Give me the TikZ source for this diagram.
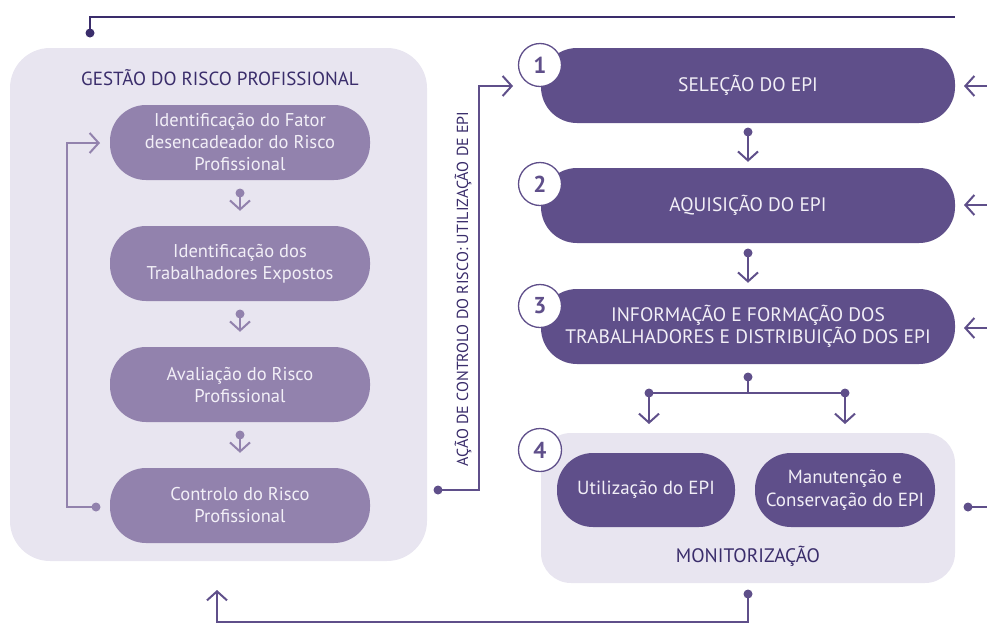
\documentclass[tikz,border=0pt]{standalone}
\usepackage{fontspec}
\setmainfont{PT Sans}
\usetikzlibrary{arrows.meta}
\definecolor{dk}{HTML}{5F4F8A}
\definecolor{lt}{HTML}{9282AD}
\definecolor{pan}{HTML}{E8E5F0}
\definecolor{navy}{HTML}{3A2D6B}
\definecolor{ltxt}{HTML}{F2EFF7}
\tikzset{
  panel/.style={fill=pan, rounded corners=40pt, inner sep=0pt},
  lbox/.style={fill=lt, rounded corners=36pt, minimum width=260pt, minimum height=75pt, text=ltxt, align=center, font=\fontsize{18.5}{22}\selectfont, inner sep=0pt},
  rbox/.style={fill=dk, rounded corners=36pt, minimum width=414pt, minimum height=75pt, text=ltxt, align=center, font=\fontsize{19.5}{22}\selectfont, inner sep=0pt},
  ibox/.style={fill=dk, rounded corners=36pt, minimum height=74pt, text=ltxt, align=center, font=\fontsize{19}{23}\selectfont, inner sep=0pt},
  numc/.style={circle, draw=dk, line width=1.3pt, fill=white, minimum size=43pt, inner sep=0pt, text=dk, font=\fontsize{23}{23}\selectfont\bfseries},
  dot/.style={circle, fill=#1, minimum size=9pt, inner sep=0pt},
  dkline/.style={draw=dk, line width=2pt},
  ltline/.style={draw=lt, line width=2pt},
  arr/.style={-{Straight Barb[length=9pt,width=20pt,line width=2pt]}},
  ttl/.style={text=navy, font=\fontsize{19}{22}\selectfont},
}
\begin{document}
\begin{tikzpicture}[x=1pt,y=-1pt]
\useasboundingbox (0,0) rectangle (987,635);
% left panel
\node[panel, minimum width=417pt, minimum height=513pt] (lp) at (218.5,304.5) {};
\node[ttl] (lt) at (220,78) {GESTÃO DO RISCO PROFISSIONAL};
\node[lbox] (l1) at (240,142.5) {Identificação do Fator\\desencadeador do Risco\\Profissional};
\node[lbox] (l2) at (240,263.5) {Identificação dos\\Trabalhadores Expostos};
\node[lbox] (l3) at (240,384.5) {Avaliação do Risco\\Profissional};
\node[lbox] (l4) at (240,505.5) {Controlo do Risco\\Profissional};
% left small arrows
\node[dot=lt] (d1) at (240,193) {};
\node[dot=lt] (d2) at (240,314) {};
\node[dot=lt] (d3) at (240,435) {};
\draw[ltline,arr] (d1.center) -- ([yshift=15pt]l2.north);
\draw[ltline,arr] (d2.center) -- ([yshift=15pt]l3.north);
\draw[ltline,arr] (d3.center) -- ([yshift=15pt]l4.north);
% left loop
\node[dot=lt] (dl) at (96,507) {};
\coordinate (la) at (100,143);
\draw[ltline,arr] (dl.center) -| (67,143) -- (la);
% right boxes
\node[rbox] (r1) at (748,85.5) {SELEÇÃO DO EPI};
\node[rbox] (r2) at (748,205.5) {AQUISIÇÃO DO EPI};
\node[rbox] (r3) at (748,326.5) {INFORMAÇÃO E FORMAÇÃO DOS\\TRABALHADORES E DISTRIBUIÇÃO DOS EPI};
% monitor panel
\node[panel, rounded corners=30pt, minimum width=414pt, minimum height=150pt] (mp) at (748,508) {};
\node[ibox, minimum width=178pt] (m1) at (646,490) {Utilização do EPI};
\node[ibox, minimum width=180pt] (m2) at (845,490) {Manutenção e\\Conservação do EPI};
\node[ttl, font=\fontsize{19.5}{22}\selectfont] (mt) at (748,556) {MONITORIZAÇÃO};
% number circles
\node[numc] (n1) at (540,65) {1};
\node[numc] (n2) at (540,184) {2};
\node[numc] (n3) at (540,306) {3};
\node[numc] (n4) at (540,450) {4};
% right arrows down
\node[dot=dk] (e1) at (748,132) {};
\node[dot=dk] (e2) at (748,253) {};
\node[dot=dk] (e3) at (748,377) {};
\draw[dkline,arr] (e1.center) -- ([yshift=6pt]r2.north);
\draw[dkline,arr] (e2.center) -- ([yshift=6pt]r3.north);
\node[dot=dk] (bl) at (649,393) {};
\node[dot=dk] (br) at (845,393) {};
\coordinate (al) at (649,424);
\coordinate (ar) at (845,424);
\draw[dkline] (e3.center) -- (748,393);
\draw[dkline] (bl.center) -- (br.center);
\draw[dkline,arr] (bl.center) -- (al);
\draw[dkline,arr] (br.center) -- (ar);
% vertical text and connector
\node[text=navy, font=\fontsize{16}{18}\selectfont, rotate=90] (vt) at (463,289) {AÇÃO DE CONTROLO DO RISCO: UTILIZAÇÃO DE EPI};
\node[dot=dk] (dv) at (438,490) {};
\coordinate (av) at (513,86);
\draw[dkline,arr] (dv.center) -- (479,490) -- (479,86) -- (av);
% bottom return
\node[dot=dk] (db) at (748,594) {};
\coordinate (ab) at (217,590);
\draw[dkline,arr] (db.center) -- (748,622) -- (217,622) -- (ab);
% top line
\node[dot=navy] (dt) at (90,33) {};
\coordinate (te) at (955,17);
\draw[draw=navy, line width=2pt] (dt.center) -- (90,17) -- (te);
% right incoming arrows
\coordinate (i1) at (987,86);
\coordinate (i2) at (987,205);
\coordinate (i3) at (987,328);
\coordinate (j1) at (964,86);
\coordinate (j2) at (964,205);
\coordinate (j3) at (964,328);
\draw[dkline,arr] (i1) -- (j1);
\draw[dkline,arr] (i2) -- (j2);
\draw[dkline,arr] (i3) -- (j3);
\node[dot=dk] (dr) at (968,507) {};
\coordinate (drr) at (987,507);
\draw[dkline] (dr.center) -- (drr);
\end{tikzpicture}
\end{document}
